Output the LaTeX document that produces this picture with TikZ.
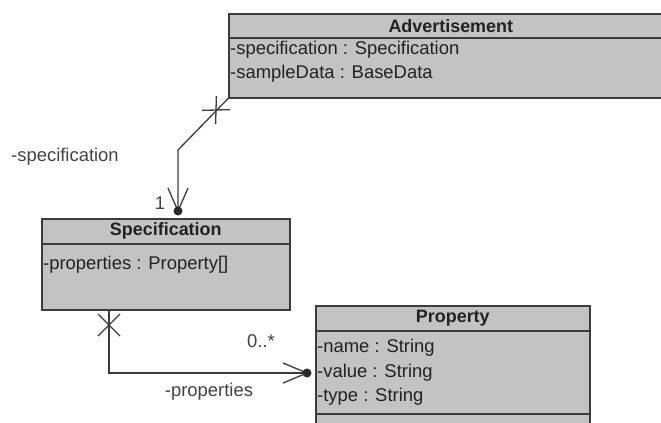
\documentclass[tikz,border=0pt]{standalone}
\usepackage{fontspec}
\setmainfont{Liberation Sans}
\usetikzlibrary{calc}
\definecolor{boxfill}{HTML}{C3C3C3}
\definecolor{boxline}{HTML}{3C3C3C}
\definecolor{txt}{HTML}{222222}
\begin{document}
\begin{tikzpicture}[x=1bp,y=-1bp,
  umlbox/.style={draw=boxline, line width=1.6bp, fill=boxfill, inner sep=0pt, anchor=north west},
  clsname/.style={font=\fontsize{18}{20}\selectfont\bfseries, text=txt, inner sep=0pt},
  attr/.style={font=\fontsize{18.5}{20}\selectfont, text=txt, inner sep=0pt, anchor=west},
  lbl/.style={font=\fontsize{18.5}{20}\selectfont, text=txt!85, inner sep=0pt},
  conn/.style={draw=boxline, line width=1.3bp},
  sep/.style={draw=boxline, line width=1.6bp}]
\useasboundingbox (0,0) rectangle (661,422);
\clip (0,0) rectangle (661,422);
\fill[white] (0,0) rectangle (661,422);

% Advertisement class
\node[umlbox, minimum width=444bp, minimum height=84bp] (adv) at (228,13) {};
\draw[sep] ($(adv.north west)+(0,25)$) -- ($(adv.north east)+(0,25)$);
\node[clsname] (advT) at ($(adv.north)+(0,13)$) {Advertisement};
\node[attr] (advA1) at ($(adv.north west)+(2,37)$) {-specification : Specification};
\node[attr] (advA2) at ($(adv.north west)+(2,61)$) {-sampleData : BaseData};

% Specification class
\node[umlbox, minimum width=248bp, minimum height=91bp] (spec) at (41,218) {};
\draw[sep] ($(spec.north west)+(0,26)$) -- ($(spec.north east)+(0,26)$);
\node[clsname] (specT) at ($(spec.north)+(0,13)$) {Specification};
\node[attr] (specA1) at ($(spec.north west)+(2,47)$) {-properties : Property[]};

% Property class
\node[umlbox, minimum width=274bp, minimum height=140bp] (prop) at (315,305) {};
\draw[sep] ($(prop.north west)+(0,26)$) -- ($(prop.north east)+(0,26)$);
\draw[sep] ($(prop.north west)+(0,109)$) -- ($(prop.north east)+(0,109)$);
\node[clsname] (propT) at ($(prop.north)+(0,13)$) {Property};
\node[attr] (propA1) at ($(prop.north west)+(2,43)$) {-name : String};
\node[attr] (propA2) at ($(prop.north west)+(2,68)$) {-value : String};
\node[attr] (propA3) at ($(prop.north west)+(2,92)$) {-type : String};

% Association Advertisement -> Specification
\coordinate (bendA) at (178,150);
\coordinate (specEnd) at (178,211);
\draw[conn] (adv.south west) -- (bendA) -- (specEnd);
\coordinate (crossA) at (216,110);
\draw[conn] ($(crossA)+(0.4,-14)$) -- ($(crossA)+(-0.4,14)$);
\draw[conn] ($(crossA)+(-14,0.4)$) -- ($(crossA)+(14,-0.4)$);
\draw[conn] ($(specEnd)+(-10,-23)$) -- (specEnd) -- ($(specEnd)+(10,-23)$);
\fill[boxline!70!black] (specEnd) circle (4.5bp);
\node[lbl] (multA) at (160,203) {1};
\node[lbl, anchor=west] (roleA) at (11,157) {-specification};

% Association Specification -> Property
\coordinate (specOut) at ($(spec.south west)+(68,0)$);
\coordinate (bendB) at (109,373);
\coordinate (propEnd) at (307,373);
\draw[conn] (specOut) -- (bendB) -- (propEnd);
\coordinate (crossB) at (109,325);
\draw[conn] ($(crossB)+(-11,-11)$) -- ($(crossB)+(11,11)$);
\draw[conn] ($(crossB)+(-11,11)$) -- ($(crossB)+(11,-11)$);
\draw[conn] ($(propEnd)+(-24,-10)$) -- (propEnd) -- ($(propEnd)+(-24,10)$);
\fill[boxline!70!black] (propEnd) circle (4.5bp);
\node[lbl] (multB) at (261,341) {0..*};
\node[lbl] (roleB) at (209,392) {-properties};
\end{tikzpicture}
\end{document}
